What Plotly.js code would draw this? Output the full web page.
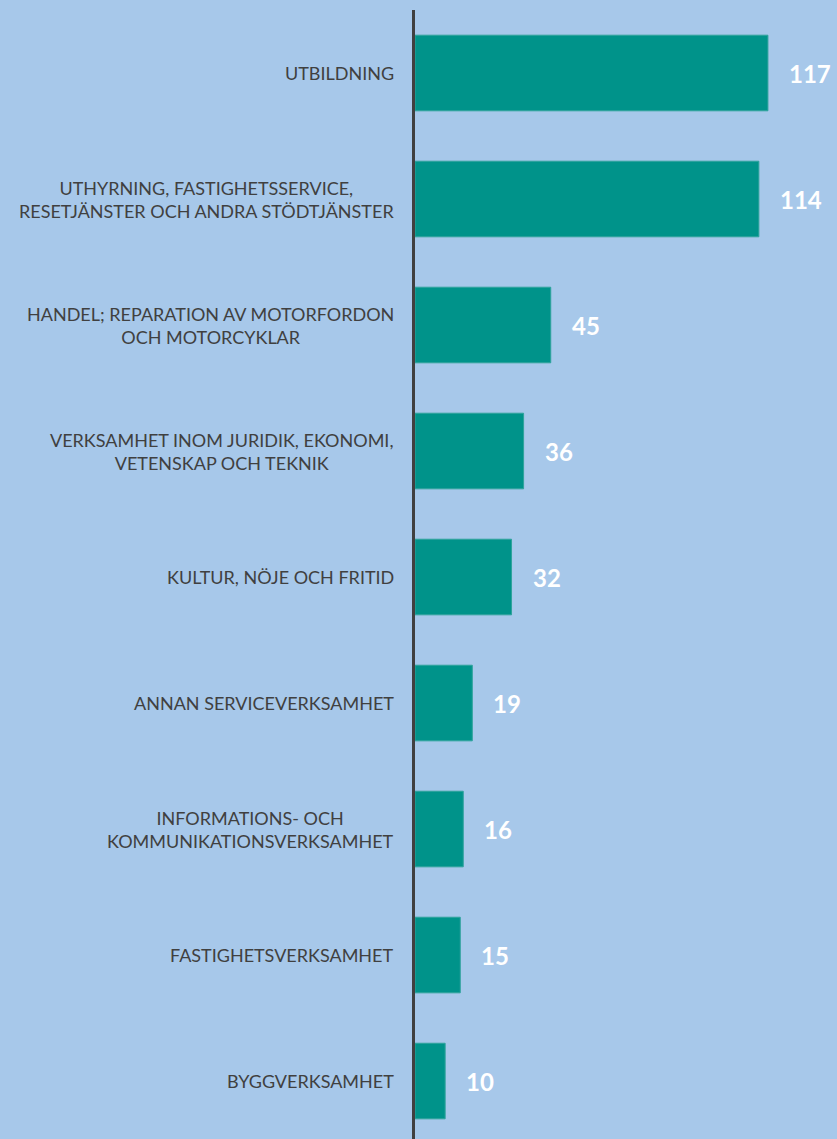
<!DOCTYPE html>
<html>
<head>
<meta charset="utf-8">
<script src="https://cdn.plot.ly/plotly-3.0.1.min.js"></script>
<style>html,body{margin:0;padding:0;background:#A7C8EA;}</style>
</head>
<body>
<div id="chart" style="width:837px;height:1139px;"></div>
<script>
const categories = [
  "UTBILDNING",
  "UTHYRNING, FASTIGHETSSERVICE,<br>RESETJÄNSTER OCH ANDRA STÖDTJÄNSTER",
  "HANDEL; REPARATION AV MOTORFORDON<br>OCH MOTORCYKLAR",
  "VERKSAMHET INOM JURIDIK, EKONOMI,<br>VETENSKAP OCH TEKNIK",
  "KULTUR, NÖJE OCH FRITID",
  "ANNAN SERVICEVERKSAMHET",
  "INFORMATIONS- OCH<br>KOMMUNIKATIONSVERKSAMHET",
  "FASTIGHETSVERKSAMHET",
  "BYGGVERKSAMHET"
];
const values = [117, 114, 45, 36, 32, 19, 16, 15, 10];

const idx = categories.map((c, i) => i);

const trace = {
  type: 'bar',
  orientation: 'h',
  x: values,
  y: idx,
  marker: {color: '#00938A', line: {color: '#2FA39C', width: 1}},
  hoverinfo: 'none',
  width: 0.6
};

const annotations = [];
categories.forEach((c, i) => {
  annotations.push({
    xref: 'paper', yref: 'y', x: 0, y: i,
    text: c, showarrow: false, xanchor: 'right', yanchor: 'middle',
    align: 'center', xshift: -19,
    font: {family: 'Lato, sans-serif', size: 18, color: '#404040'}
  });
  annotations.push({
    xref: 'x', yref: 'y', x: values[i], y: i,
    text: String(values[i]), showarrow: false, xanchor: 'left', yanchor: 'middle',
    xshift: 19,
    font: {family: 'Lato, sans-serif', size: 24, color: '#FFFFFF', weight: 'bold'}
  });
});

const layout = {
  width: 837, height: 1139,
  margin: {l: 415, r: 0, t: 10, b: 0},
  paper_bgcolor: '#A7C8EA',
  plot_bgcolor: '#A7C8EA',
  showlegend: false,
  bargap: 0.4,
  xaxis: {range: [0, 139.9], showgrid: false, zeroline: false, showticklabels: false, showline: false, ticks: ''},
  yaxis: {range: [8.46, -0.5], showgrid: false, zeroline: false, showticklabels: false, ticks: '',
          showline: true, linecolor: '#404040', linewidth: 3},
  annotations: annotations
};

Plotly.newPlot('chart', [trace], layout, {displayModeBar: false, staticPlot: true});
</script>
</body>
</html>
